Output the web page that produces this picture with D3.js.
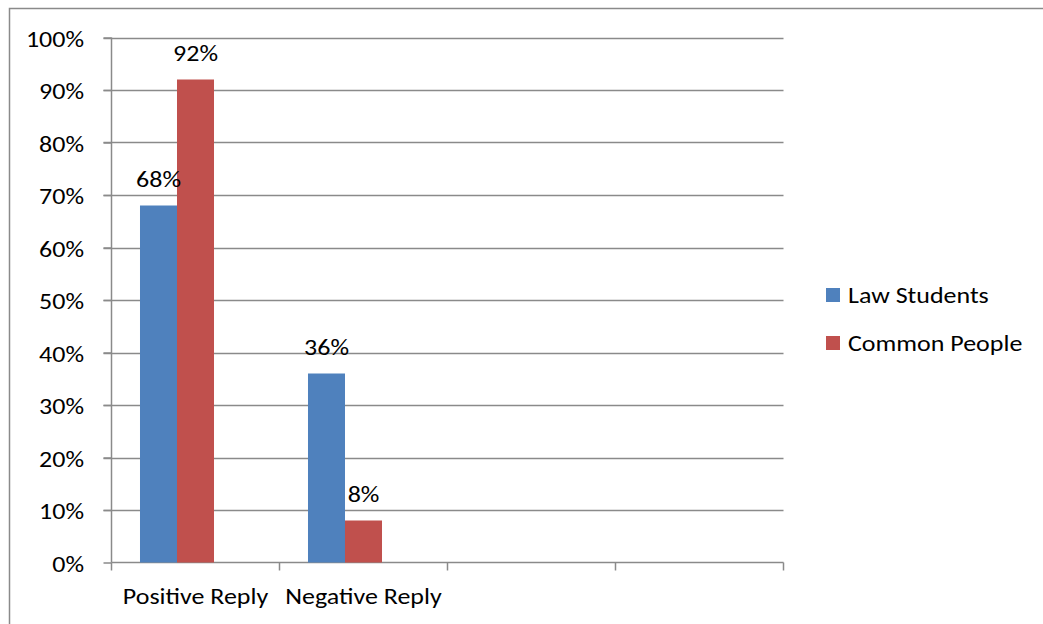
<!DOCTYPE html>
<html>
<head>
<meta charset="utf-8">
<script src="https://cdn.jsdelivr.net/npm/d3@7/dist/d3.min.js"></script>
<style>
  html, body { margin: 0; padding: 0; background: #fff; }
  svg { display: block; }
  text { font-family: Carlito, "Noto Sans", "Open Sans", sans-serif; fill: #000; }
</style>
</head>
<body>
<script>
// Survey replies by group
const categories = ["Positive Reply", "Negative Reply", "", " "];
const seriesNames = ["Law Students", "Common People", "Others"];
const lawStudents = [0.68, 0.36, null, null];
const commonPeople = [0.92, 0.08, null, null];
const others = [null, null, null, null];
const seriesColors = ["#4f81bd", "#c0504d", "#9bbb59"];
const yTicks = [0, 0.1, 0.2, 0.3, 0.4, 0.5, 0.6, 0.7, 0.8, 0.9, 1.0];
const legendSeries = [0, 1];

const W = 1043, H = 624;
const plot = { left: 111.5, right: 783.5, top: 37.5, bottom: 562.5 };
const FS = 23;
const SX = 1.13; // horizontal text stretch
const FONT = "Carlito, 'Noto Sans', sans-serif";
const GRID = "#8a8a8a";

const svg = d3.select("body").append("svg").attr("width", W).attr("height", H);

// widen text horizontally about its anchor point
function stretch(sel) {
  sel.each(function () {
    const t = d3.select(this);
    const tx = +t.attr("x") || 0, ty = +t.attr("y") || 0;
    t.attr("x", 0).attr("y", 0)
      .attr("transform", `translate(${tx},${ty}) scale(${SX},1)`);
  });
}

// chart frame
svg.append("rect")
  .attr("x", 9.5).attr("y", 8.5)
  .attr("width", W + 10).attr("height", H + 10)
  .attr("fill", "none").attr("stroke", GRID).attr("stroke-width", 1.5);

const x = d3.scaleBand().domain(categories).range([plot.left, plot.right]);
const x1 = d3.scaleBand().domain(seriesNames)
  .range([0, x.bandwidth()]).paddingOuter(0.77).paddingInner(0);
const y = d3.scaleLinear().domain([0, 1]).range([plot.bottom, plot.top]);

// horizontal gridlines
svg.append("g").selectAll("line").data(yTicks.filter(d => d > 0)).join("line")
  .attr("x1", plot.left - 8).attr("x2", plot.right)
  .attr("y1", d => Math.round(y(d)) + 0.5).attr("y2", d => Math.round(y(d)) + 0.5)
  .attr("stroke", GRID).attr("stroke-width", 1.5);

// y axis
const yAxis = d3.axisLeft(y).tickValues(yTicks).tickFormat(d3.format(".0%"))
  .tickSize(8).tickPadding(19.5);
const gy = svg.append("g").attr("transform", `translate(${plot.left},0)`).call(yAxis);
gy.attr("font-family", null).attr("font-size", null);
gy.select(".domain").attr("stroke", GRID).attr("stroke-width", 1.5).attr("d", `M0,${plot.top}V${plot.bottom}`);
gy.selectAll(".tick line").attr("stroke", GRID).attr("stroke-width", 1.5);
gy.selectAll(".tick text").attr("font-size", FS).attr("dy", "0.37em")
  .style("font-family", FONT).attr("fill", "#000").call(stretch);

// x axis with tick marks at category boundaries
const boundaries = categories.map(c => x(c)).concat([plot.right]);
const gx = svg.append("g");
gx.append("line").attr("x1", plot.left).attr("x2", plot.right)
  .attr("y1", plot.bottom).attr("y2", plot.bottom)
  .attr("stroke", GRID).attr("stroke-width", 1.5);
gx.selectAll("line.tk").data(boundaries).join("line").attr("class", "tk")
  .attr("x1", d => d).attr("x2", d => d)
  .attr("y1", plot.bottom).attr("y2", plot.bottom + 8)
  .attr("stroke", GRID).attr("stroke-width", 1.5);
gx.selectAll("text").data(categories).join("text")
  .attr("x", d => x(d) + x.bandwidth() / 2).attr("y", 604)
  .attr("text-anchor", "middle").attr("font-size", FS).text(d => d.trim())
  .call(stretch);

// bars
const seriesData = [lawStudents, commonPeople, others];
const barData = [];
seriesData.forEach((vals, si) => vals.forEach((v, ci) => {
  if (v != null) barData.push({ s: si, c: categories[ci], v });
}));
svg.append("g").selectAll("rect").data(barData).join("rect")
  .attr("x", d => x(d.c) + x1(seriesNames[d.s]))
  .attr("width", x1.bandwidth())
  .attr("y", d => y(d.v)).attr("height", d => y(0) - y(d.v))
  .attr("fill", d => seriesColors[d.s]);

// value labels
svg.append("g").selectAll("text").data(barData).join("text")
  .attr("x", d => x(d.c) + x1(seriesNames[d.s]) + x1.bandwidth() / 2)
  .attr("y", d => y(d.v) - 18.5)
  .attr("text-anchor", "middle").attr("font-size", FS)
  .text(d => d3.format(".0%")(d.v))
  .call(stretch);

// legend
const lg = svg.append("g").attr("transform", "translate(826,288)");
lg.selectAll("rect").data(legendSeries).join("rect")
  .attr("x", 0).attr("y", (d, i) => i * 48).attr("width", 14).attr("height", 14)
  .attr("fill", d => seriesColors[d]);
lg.selectAll("text").data(legendSeries).join("text")
  .attr("x", 22).attr("y", (d, i) => i * 48 + 14.5)
  .attr("font-size", FS).text(d => seriesNames[d])
  .call(stretch);
</script>
</body>
</html>
